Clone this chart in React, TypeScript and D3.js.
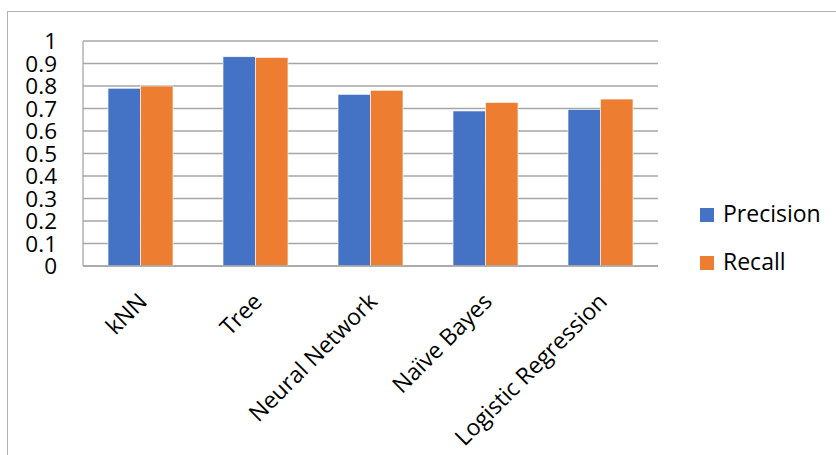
import React from "react";
import * as d3 from "d3";

const categories = ["kNN", "Tree", "Neural Network", "Naïve Bayes", "Logistic Regression"];
const seriesNames = ["Precision", "Recall"];
const precision = [0.79, 0.93, 0.763, 0.689, 0.696];
const recall = [0.80, 0.927, 0.781, 0.727, 0.742];
const yTicks = [0, 0.1, 0.2, 0.3, 0.4, 0.5, 0.6, 0.7, 0.8, 0.9, 1];
const colors = ["#4472C4", "#ED7D31"];

const W = 836;
const H = 455;
const FONT = "'Open Sans', 'Liberation Sans', sans-serif";

export default function App() {
  const plot = { left: 83, right: 658, top: 41, bottom: 266 };
  const x = d3.scaleBand<string>().domain(categories).range([plot.left, plot.right]).paddingInner(0).paddingOuter(0);
  const y = d3.scaleLinear().domain([0, 1]).range([plot.bottom, plot.top]);
  const groupW = x.bandwidth() * 0.565;
  const xs = d3.scaleBand<string>().domain(seriesNames).range([0, groupW]);
  const series = [precision, recall];

  return (
    <svg width={W} height={H} style={{ position: "absolute", left: 0, top: 0, background: "#fff" }} fontFamily={FONT}>
      <rect x={0} y={0} width={W} height={H} fill="#fff" />
      <rect x={7.5} y={11.5} width={W + 20} height={H + 20} fill="none" stroke="#b3b3b3" strokeWidth={1} />
      {yTicks.map((t) => (
        <g key={t}>
          <line x1={plot.left} x2={plot.right} y1={y(t)} y2={y(t)} stroke="#a6a6a6" strokeWidth={1.3} />
          <text x={57} y={y(t)} dy="0.36em" textAnchor="end" fontSize={22.5} fill="#000">
            {d3.format("~g")(t)}
          </text>
        </g>
      ))}
      <line x1={plot.left} x2={plot.left} y1={plot.top} y2={plot.bottom} stroke="#a6a6a6" strokeWidth={1.3} />
      {series.map((vals, si) =>
        categories.map((c, ci) => {
          const bx = (x(c) as number) + (x.bandwidth() - groupW) / 2 + (xs(seriesNames[si]) as number);
          return (
            <rect
              key={`${si}-${ci}`}
              x={bx}
              y={y(vals[ci])}
              width={xs.bandwidth()}
              height={y(0) - y(vals[ci])}
              fill={colors[si]}
              stroke="#fff"
              strokeWidth={0.6}
            />
          );
        })
      )}
      <line x1={plot.left} x2={plot.right} y1={y(0)} y2={y(0)} stroke="#a6a6a6" strokeWidth={1.3} />
      {categories.map((c) => {
        const cx = (x(c) as number) + x.bandwidth() / 2 + 8;
        const cy = 303;
        return (
          <text key={c} x={cx} y={cy} transform={`rotate(-45 ${cx} ${cy})`} textAnchor="end" fontSize={23} fill="#000">
            {c}
          </text>
        );
      })}
      {seriesNames.map((s, i) => {
        const ly = 208 + i * 48;
        return (
          <g key={s}>
            <rect x={700} y={ly} width={14} height={14} fill={colors[i]} />
            <text x={723} y={ly + 14} fontSize={23} fill="#000">
              {s}
            </text>
          </g>
        );
      })}
    </svg>
  );
}
